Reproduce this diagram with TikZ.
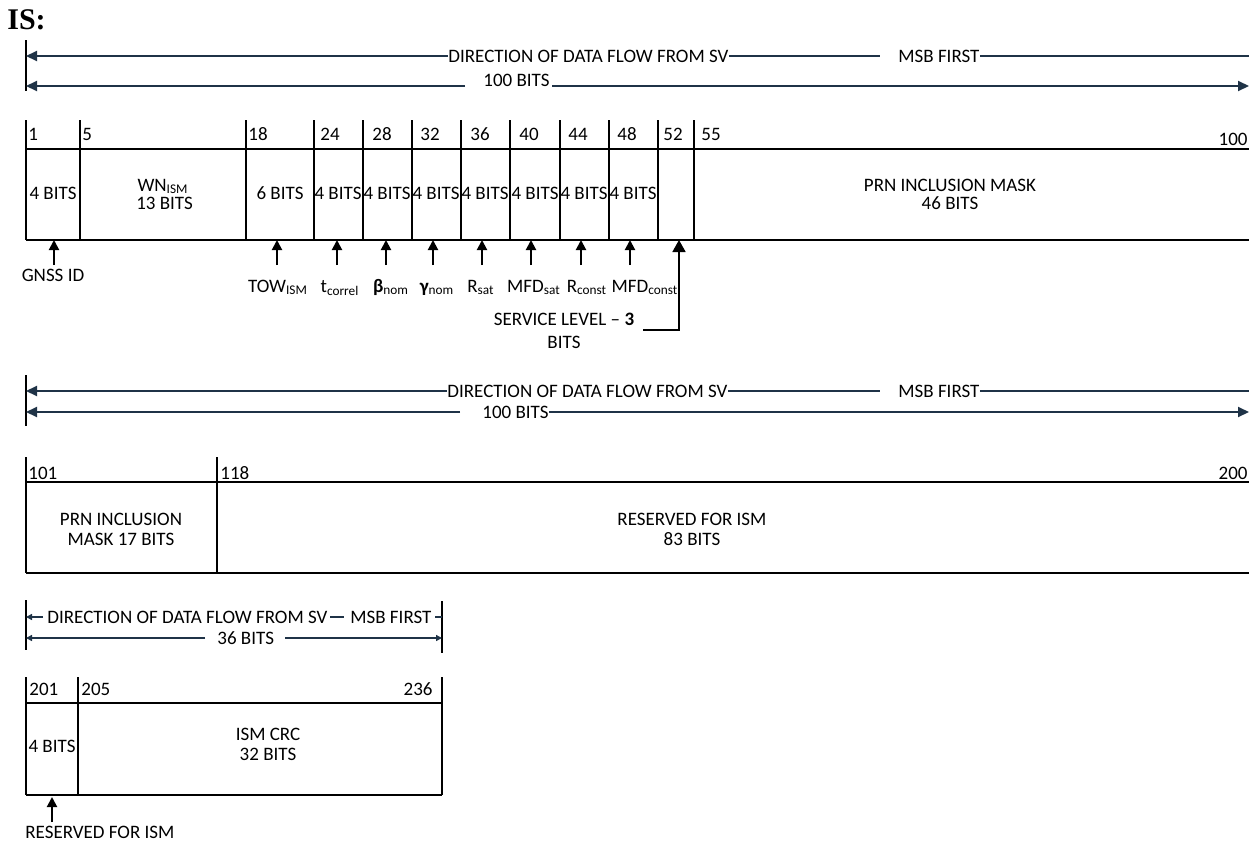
\documentclass[tikz,border=0pt]{standalone}
\usepackage{fontspec}
\setmainfont{Carlito}
\newfontfamily\headfont{Liberation Serif}
\usetikzlibrary{arrows.meta}
\definecolor{navy}{HTML}{1F3347}
\begin{document}
\begin{tikzpicture}[x=0.5pt,y=-0.5pt,
  every node/.style={inner sep=0pt, font=\fontsize{9.5}{10}\selectfont},
  hdr/.style={draw=navy, line width=1pt},
  hdrtip/.style={-{Triangle[length=5.5pt,width=5pt]}},
  smalltip/.style={-{Triangle[length=3pt,width=3pt]}},
  box/.style={line width=1.1pt},
  tick/.style={line width=1pt},
  up/.style={line width=1pt, -{Triangle[length=5pt,width=5pt]}},
  bigup/.style={line width=0.9pt, -{Triangle[length=6pt,width=6.5pt]}},
  ]
\useasboundingbox (0,0) rectangle (1249,841);

% ---------- title ----------
\node[anchor=west, font=\headfont\bfseries\fontsize{15}{18}\selectfont] (title) at (7,20) {IS:};

% ================= ROW 1 =================
\coordinate (h1t) at (26,40); \coordinate (h1b) at (26,91);
\draw[tick] (h1t) -- (h1b);
\node[anchor=west] (dir1) at (448,56) {DIRECTION OF DATA FLOW FROM SV};
\node[anchor=west] (msb1) at (898,56) {MSB FIRST};
\node[anchor=base west] (bits1) at (483,86) {100 BITS};
\coordinate (l1L) at (26,56); \coordinate (l1b) at (880,56); \coordinate (l1R) at (1249,56);
\draw[hdr,hdrtip] (dir1.west) -- (l1L);
\draw[hdr] (dir1.east) -- (l1b);
\draw[hdr] (msb1.east) -- (l1R);
\coordinate (l2L) at (26,86); \coordinate (l2a) at (465,86);
\coordinate (l2b) at (552,86); \coordinate (l2R) at (1249,86);
\draw[hdr,hdrtip] (l2a) -- (l2L);
\draw[hdr,hdrtip] (l2b) -- (l2R);

% box
\draw[box] (26,149) -- (1249,149);
\draw[box] (26,240) -- (1249,240);
\foreach \x in {26,80,246,314,363,412,461,510,560,609,658,694}
  \draw[box] (\x,120) -- (\x,240);
% bit numbers
\foreach \x/\t/\n in {28/1/b1,82/5/b5,248/18/b18,320/24/b24,372/28/b28,420/32/b32,470/36/b36,519/40/b40,568/44/b44,617/48/b48,663/52/b52,701/55/b55}
  \node[anchor=base west] (\n) at (\x,140) {\t};
\node[anchor=base east] (b100) at (1248,145) {100};
% cell texts
\node (c1) at (53,193) {4 BITS};
\node[align=center, font=\fontsize{9.5}{9}\selectfont] (c2) at (163,194) {WN\textsubscript{ISM}\\ \,13 BITS};
\node (c3) at (280,193) {6 BITS};
\foreach \x/\n in {338/c4,387/c5,436/c6,485/c7,535/c8,584/c9,633/c10}
  \node (\n) at (\x,193) {4 BITS};
\node[align=center, font=\fontsize{9.5}{9}\selectfont] (c12) at (950,194) {PRN INCLUSION MASK\\46 BITS};

% arrows below row 1
\coordinate (gA) at (54,265); \coordinate (gB) at (54,240);
\draw[up] (gA) -- (gB);
\node (gnss) at (53,275) {GNSS ID};
\foreach \x/\lx/\n/\t in {
   277/278/tow/{TOW\textsubscript{ISM}},
   337/340/tcor/{t\textsubscript{correl}},
   386/391/beta/{{\bfseries β}\textsubscript{nom}},
   433/437/gam/{{\bfseries γ}\textsubscript{nom}},
   482/481/rsat/{R\textsubscript{sat}},
   531/534/msat/{MFD\textsubscript{sat}},
   581/587/rcon/{R\textsubscript{const}},
   630/645/mcon/{MFD\textsubscript{const}}}{
  \coordinate (\n A) at (\x,265); \coordinate (\n B) at (\x,240);
  \draw[up] (\n A) -- (\n B);
  \node[anchor=base] (\n) at (\lx,292) {\t};
}
\node[align=center, font=\fontsize{9.5}{11.5}\selectfont] (svc) at (564,331) {SERVICE LEVEL -- \textbf{3}\\BITS};
\coordinate (s1) at (643,330); \coordinate (s2) at (679,330); \coordinate (s3) at (679,240);
\draw[bigup] (s1) -- (s2) -- (s3);

% ================= ROW 2 =================
\coordinate (h2t) at (26,375); \coordinate (h2b) at (26,426);
\draw[tick] (h2t) -- (h2b);
\node[anchor=west] (dir2) at (447,391) {DIRECTION OF DATA FLOW FROM SV};
\node[anchor=west] (msb2) at (898,391) {MSB FIRST};
\node[anchor=west] (bits2) at (482,412) {100 BITS};
\coordinate (m1L) at (26,391); \coordinate (m1b) at (880,391); \coordinate (m1R) at (1249,391);
\draw[hdr,hdrtip] (dir2.west) -- (m1L);
\draw[hdr] (dir2.east) -- (m1b);
\draw[hdr] (msb2.east) -- (m1R);
\coordinate (m2L) at (26,412); \coordinate (m2a) at (460,412);
\coordinate (m2b) at (549,412); \coordinate (m2R) at (1249,412);
\draw[hdr,hdrtip] (m2a) -- (m2L);
\draw[hdr,hdrtip] (m2b) -- (m2R);

\draw[box] (26,482) -- (1249,482);
\draw[box] (26,573) -- (1249,573);
\foreach \x in {26,217}
  \draw[box] (\x,457) -- (\x,573);
\node[anchor=base west] (b101) at (28,479) {101};
\node[anchor=base west] (b118) at (220,479) {118};
\node[anchor=base east] (b200) at (1248,479) {200};
\node[align=center] (d1) at (121,529) {PRN INCLUSION\\MASK 17 BITS};
\node[align=center] (d2) at (692,529) {RESERVED FOR ISM\\83 BITS};

% ================= ROW 3 =================
\coordinate (h3t) at (26,600); \coordinate (h3b) at (26,650);
\coordinate (h3u) at (442,601); \coordinate (h3v) at (442,653);
\draw[tick] (h3t) -- (h3b);
\draw[tick] (h3u) -- (h3v);
\node[anchor=west] (dir3) at (47,617) {DIRECTION OF DATA FLOW FROM SV};
\node[anchor=west] (msb3) at (350,617) {MSB FIRST};
\node[anchor=west] (bits3) at (217,638) {36 BITS};
\coordinate (n1L) at (26,617); \coordinate (n1a) at (43,617);
\coordinate (n1b) at (330,617); \coordinate (n1c) at (344,617);
\coordinate (n1d) at (435,617); \coordinate (n1R) at (442,617);
\draw[hdr,smalltip] (n1a) -- (n1L);
\draw[hdr] (n1b) -- (n1c);
\draw[hdr] (n1d) -- (n1R);
\coordinate (n2L) at (26,638); \coordinate (n2a) at (205,638);
\coordinate (n2b) at (285,638); \coordinate (n2R) at (442,638);
\draw[hdr,smalltip] (n2a) -- (n2L);
\draw[hdr,smalltip] (n2b) -- (n2R);

\draw[box] (26,703) -- (442,703);
\draw[box] (26,795) -- (442,795);
\foreach \x in {26,78,442}
  \draw[box] (\x,677) -- (\x,795);
\node[anchor=base west] (b201) at (29,695) {201};
\node[anchor=base west] (b205) at (81,695) {205};
\node[anchor=base east] (b236) at (433,695) {236};
\node (e1) at (52,746) {4 BITS};
\node[align=center] (e2) at (268,744) {ISM CRC\\32 BITS};
\coordinate (rA) at (52,822); \coordinate (rB) at (52,797);
\draw[up] (rA) -- (rB);
\node[anchor=base west] (resv) at (25,838) {RESERVED FOR ISM};
\end{tikzpicture}
\end{document}
